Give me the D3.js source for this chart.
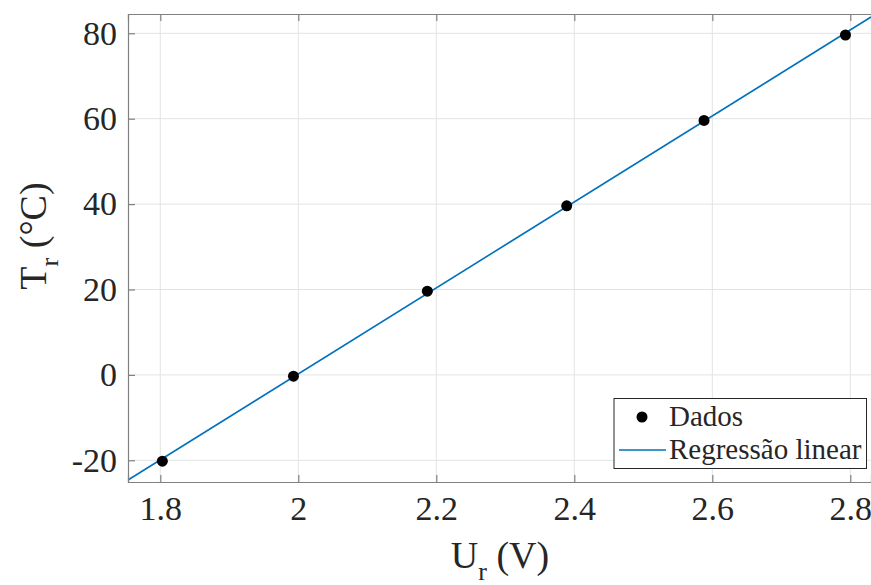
<!DOCTYPE html>
<html>
<head>
<meta charset="utf-8">
<script src="https://cdn.jsdelivr.net/npm/d3@7"></script>
<style>
  html, body { margin: 0; padding: 0; background: #fff; }
  svg { display: block; }
  text { font-family: "Liberation Serif", "Times New Roman", serif; fill: #262626; }
</style>
</head>
<body>
<svg id="chart" width="871" height="585"></svg>
<script>
// ---- Data ----
const voltage = [1.803, 1.993, 2.187, 2.389, 2.588, 2.793];   // U_r (V)
const temperature = [-20.2, -0.3, 19.6, 39.6, 59.6, 79.6];    // T_r (°C)
const xTicks = [1.8, 2, 2.2, 2.4, 2.6, 2.8];
const yTicks = [-20, 0, 20, 40, 60, 80];
const xDomain = [1.7532, 2.830];
const yDomain = [-25.08, 84.52];
const legendLabels = ["Dados", "Regressão linear"];

// ---- Layout ----
const svg = d3.select("#chart");
const L = 128, R = 871, T = 14, B = 482;
const x = d3.scaleLinear().domain(xDomain).range([L, R]);
const y = d3.scaleLinear().domain(yDomain).range([B, T]);
const axisColor = "#808080";
const blue = "#0072BD";

// grid
const grid = svg.append("g");
grid.selectAll(".gx").data(xTicks).join("line")
  .attr("x1", d => x(d)).attr("x2", d => x(d))
  .attr("y1", T).attr("y2", B)
  .attr("stroke", "#e3e3e3").attr("stroke-width", 1);
grid.selectAll(".gy").data(yTicks).join("line")
  .attr("x1", L).attr("x2", R)
  .attr("y1", d => y(d)).attr("y2", d => y(d))
  .attr("stroke", "#e3e3e3").attr("stroke-width", 1);

// clip
svg.append("clipPath").attr("id", "clip")
  .append("rect").attr("x", L).attr("y", T).attr("width", R - L).attr("height", B - T);

// regression (least squares from data)
const mx = d3.mean(voltage), my = d3.mean(temperature);
const slope = d3.sum(voltage, (v, i) => (v - mx) * (temperature[i] - my)) /
              d3.sum(voltage, v => (v - mx) * (v - mx));
const intercept = my - slope * mx;
const regLine = xDomain.map(v => [v, slope * v + intercept]);

svg.append("path")
  .datum(regLine)
  .attr("clip-path", "url(#clip)")
  .attr("fill", "none")
  .attr("stroke", blue)
  .attr("stroke-width", 1.6)
  .attr("d", d3.line().x(d => x(d[0])).y(d => y(d[1])));

// points
svg.append("g").selectAll("circle").data(voltage).join("circle")
  .attr("cx", d => x(d))
  .attr("cy", (d, i) => y(temperature[i]))
  .attr("r", 5.5)
  .attr("fill", "#000");

// axes (ticks inward)
const tickLen = 7;
const xAxisB = d3.axisBottom(x).tickValues(xTicks).tickSize(-tickLen).tickPadding(14).tickFormat(d => String(d));
const gxb = svg.append("g").attr("transform", `translate(0,${B})`).call(xAxisB);
const xAxisT = d3.axisTop(x).tickValues(xTicks).tickSize(-tickLen).tickFormat("");
const gxt = svg.append("g").attr("transform", `translate(0,${T})`).call(xAxisT);
const yAxisL = d3.axisLeft(y).tickValues(yTicks).tickSize(-tickLen).tickPadding(11).tickFormat(d => String(d));
const gyl = svg.append("g").attr("transform", `translate(${L},0)`).call(yAxisL);

[gxb, gxt, gyl].forEach(g => {
  g.select(".domain").attr("stroke", axisColor).attr("stroke-width", 1.2);
  g.selectAll(".tick line").attr("stroke", axisColor).attr("stroke-width", 1.2);
  g.selectAll(".tick text").attr("fill", "#262626")
    .style("font-family", '"Liberation Serif", "Times New Roman", serif')
    .style("font-size", "34px");
});
gxb.selectAll(".tick text").attr("dy", "0.71em");

// axis labels
const xl = svg.append("text")
  .attr("x", 500).attr("y", 568)
  .attr("text-anchor", "middle")
  .style("font-size", "38px");
xl.append("tspan").text("U");
xl.append("tspan").attr("dy", 12).style("font-size", "26px").text("r");
xl.append("tspan").attr("dy", -12).text(" (V)");

const yl = svg.append("text")
  .attr("transform", "translate(46,236) rotate(-90)")
  .attr("text-anchor", "middle")
  .style("font-size", "38px");
yl.append("tspan").text("T");
yl.append("tspan").attr("dy", 12).style("font-size", "26px").text("r");
yl.append("tspan").attr("dy", -12).text(" (°C)");

// legend
const lg = svg.append("g");
lg.append("rect").attr("x", 614).attr("y", 398.5).attr("width", 252.5).attr("height", 70)
  .attr("fill", "#fff").attr("stroke", "#262626").attr("stroke-width", 1);
lg.append("circle").attr("cx", 642).attr("cy", 417).attr("r", 5.5).attr("fill", "#000");
lg.append("line").attr("x1", 619).attr("x2", 666).attr("y1", 450).attr("y2", 450)
  .attr("stroke", blue).attr("stroke-width", 1.6);
lg.selectAll("text.lt").data(legendLabels).join("text")
  .attr("class", "lt")
  .attr("x", 669).attr("y", (d, i) => 426 + i * 33)
  .style("font-size", "29px")
  .attr("fill", "#000")
  .text(d => d);
</script>
</body>
</html>
